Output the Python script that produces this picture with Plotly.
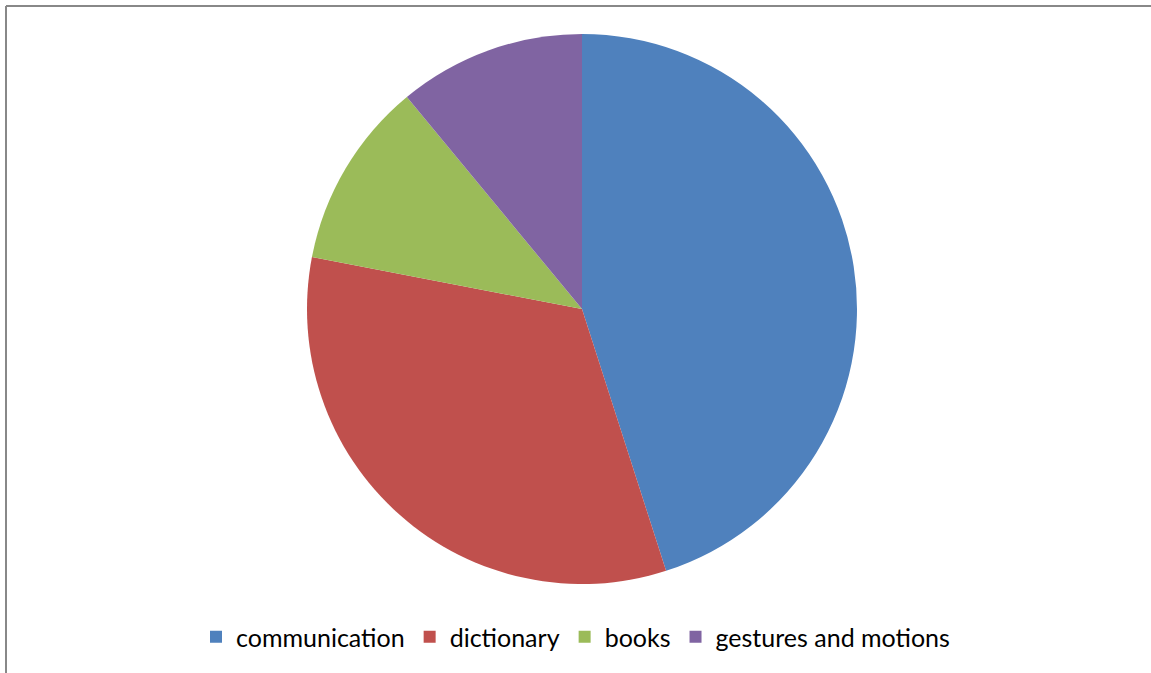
import plotly.graph_objects as go

categories = ["communication", "dictionary", "books", "gestures and motions"]
values = [41, 30, 10, 10]
colors = ["#4F81BD", "#C0504D", "#9BBB59", "#8064A2"]

W, H = 1151, 673
cx, cy, r = 582, 309, 275

fig = go.Figure(go.Pie(
    labels=categories,
    values=values,
    sort=False,
    direction="clockwise",
    rotation=0,
    textinfo="none",
    hoverinfo="label+percent",
    marker=dict(colors=colors, line=dict(width=0)),
    domain=dict(x=[(cx - r) / W, (cx + r) / W], y=[1 - (cy + r) / H, 1 - (cy - r) / H]),
))

fig.update_layout(
    width=W, height=H,
    margin=dict(l=0, r=0, t=0, b=0),
    paper_bgcolor="white",
    plot_bgcolor="white",
    font=dict(family="Lato, Open Sans, Liberation Sans, sans-serif", color="#000000"),
    legend=dict(
        orientation="h",
        x=0.5, xanchor="center",
        y=1 - 637 / H, yanchor="middle",
        font=dict(size=25, color="#000000"),
        itemwidth=30,
    ),
    shapes=[
        dict(type="line", xref="paper", yref="paper", x0=6 / W, x1=1.01, y0=1 - 6 / H, y1=1 - 6 / H,
             line=dict(color="#888888", width=2)),
        dict(type="line", xref="paper", yref="paper", x0=6 / W, x1=6 / W, y0=-0.01, y1=1 - 6 / H,
             line=dict(color="#888888", width=2)),
    ],
)

fig.write_html(
    "out.html",
    config={"displayModeBar": False},
    post_script="document.body.style.margin='0';document.body.style.overflow='hidden';",
)
